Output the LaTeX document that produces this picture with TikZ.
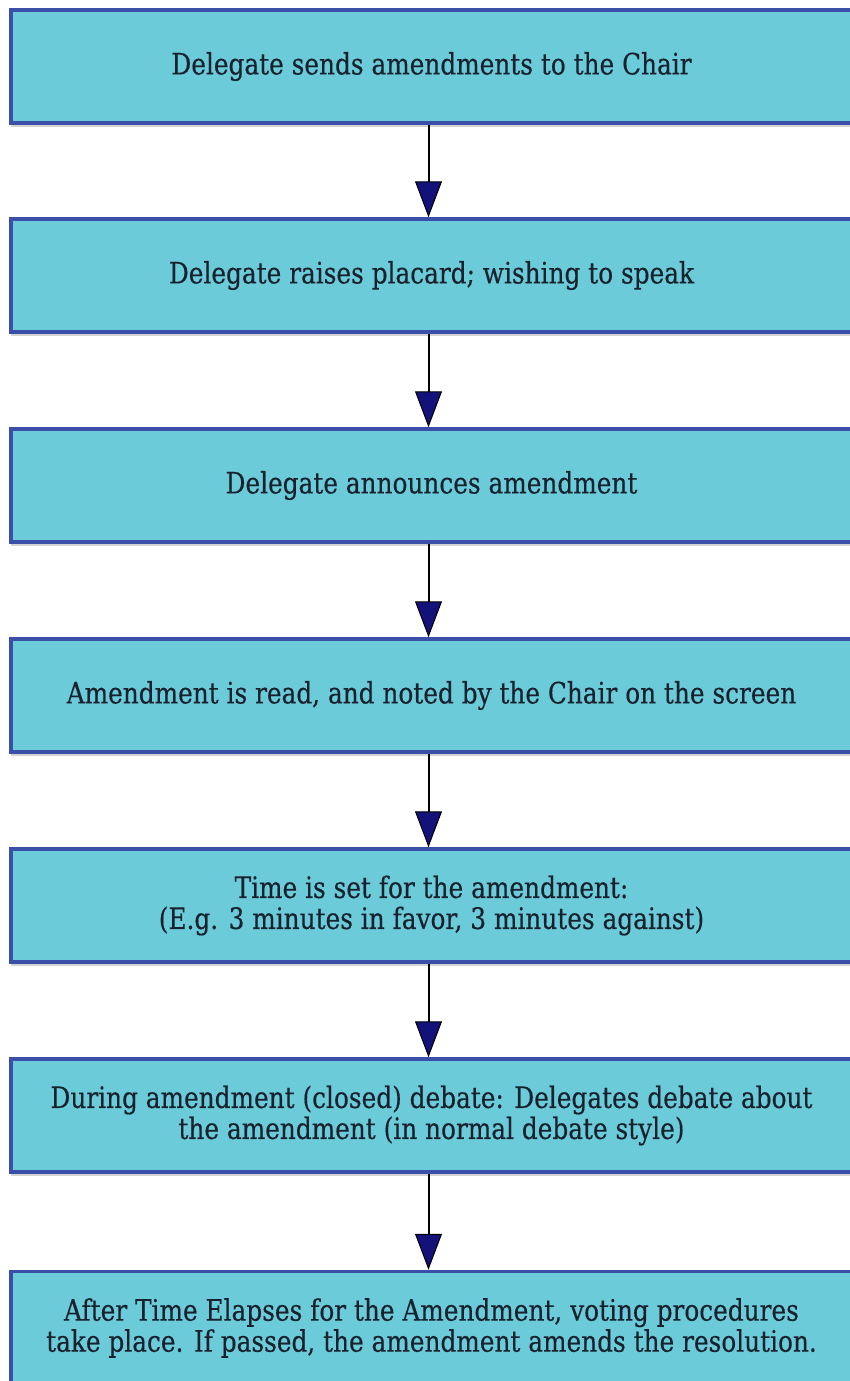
\documentclass[tikz,border=0pt]{standalone}
\usepackage{fontspec}
\setmainfont{DejaVu Serif}[FakeStretch=0.84,FakeBold=0.4]
\usetikzlibrary{arrows.meta,shadows}
\definecolor{boxfill}{HTML}{6CCBD9}
\definecolor{boxedge}{HTML}{3A4FA8}
\definecolor{boxtext}{HTML}{17222E}
\definecolor{headfill}{HTML}{12127A}
\tikzset{
  stepbox/.style={
    rectangle, draw=boxedge, line width=3.5pt, fill=boxfill,
    minimum width=841pt, minimum height=113pt, inner sep=0pt,
    align=center, text=boxtext,
    font=\fontsize{29.5}{31}\selectfont,
    drop shadow={shadow xshift=0pt, shadow yshift=-4pt, opacity=0.35, fill=gray}
  },
  flow/.style={
    draw=black, line width=2pt,
    -{Triangle[width=27pt,length=36pt,fill=headfill,line width=1pt]}
  }
}
\begin{document}
\begin{tikzpicture}[x=1pt,y=-1pt]
  \useasboundingbox (0,0) rectangle (850,1381);
  \node[stepbox] (s1) at (431.5,66.5) {Delegate sends amendments to the Chair};
  \node[stepbox] (s2) at (431.5,275.5) {Delegate raises placard; wishing to speak};
  \node[stepbox] (s3) at (431.5,485.5) {Delegate announces amendment};
  \node[stepbox] (s4) at (431.5,695.5) {Amendment is read, and noted by the Chair on the screen};
  \node[stepbox] (s5) at (431.5,905.5) {Time is set for the amendment:\\(E.g. 3 minutes in favor, 3 minutes against)};
  \node[stepbox] (s6) at (431.5,1115.5) {During amendment (closed) debate: Delegates debate about\\the amendment (in normal debate style)};
  \node[stepbox] (s7) at (431.5,1328) {After Time Elapses for the Amendment, voting procedures\\take place. If passed, the amendment amends the resolution.};
  \foreach \a/\b in {s1/s2, s2/s3, s3/s4, s4/s5, s5/s6, s6/s7}
    \draw[flow] ([xshift=-3pt]\a.south) -- ([xshift=-3pt]\b.north);
\end{tikzpicture}
\end{document}
